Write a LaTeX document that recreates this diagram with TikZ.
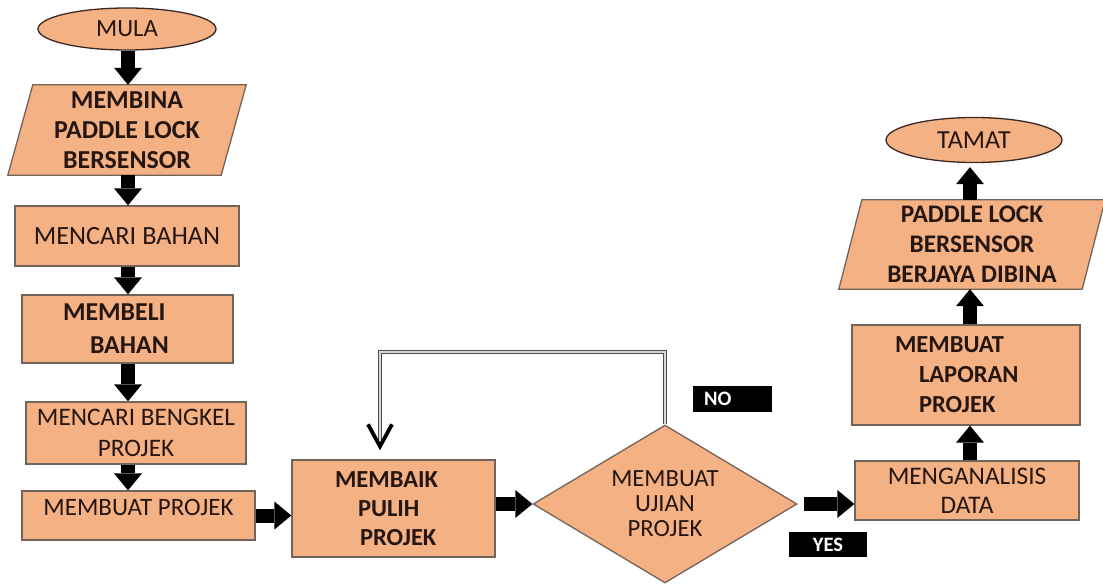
\documentclass[tikz,border=0pt]{standalone}
\usepackage{fontspec}
\setmainfont{Carlito}
\usetikzlibrary{shapes.geometric,arrows.meta,backgrounds,calc}
\definecolor{peach}{RGB}{244,177,131}
\definecolor{edge}{RGB}{115,100,90}
\definecolor{termedge}{RGB}{60,40,35}
\definecolor{ink}{RGB}{38,22,18}
\begin{document}
\begin{tikzpicture}[x=1pt,y=-1pt,
  font=\fontsize{25.5}{29}\selectfont, text=ink,
  box/.style={draw=edge, fill=peach, line width=1.3pt, inner sep=0pt, align=center},
  term/.style={ellipse, draw=termedge, fill=peach, line width=1.3pt, inner sep=0pt},
  paratext/.style={inner sep=0pt, align=center, font=\fontsize{25.5}{30}\selectfont\bfseries},
  para/.style={draw=edge, fill=peach, line width=1.3pt},
  blk/.style={line width=14pt, draw=black, -{Triangle[width=28pt,length=17pt,line width=0pt]}},
  tag/.style={fill=black, text=white, inner sep=0pt, font=\fontsize{20.5}{20.5}\selectfont\bfseries},
  fb/.style={draw=black!70, double=black!15, double distance=2pt, line width=1.4pt},
  vhead/.style={draw=black, line width=3.8pt}
]
\useasboundingbox (0,0) rectangle (1103,586);

% left column
\node[term, minimum width=178pt, minimum height=42pt, font=\fontsize{24.7}{29}\selectfont] (mula) at (127,29) {MULA};
\node[paratext, minimum width=213pt, minimum height=90pt, font=\fontsize{25.9}{30}\selectfont\bfseries] (membina) at (127,130) {MEMBINA\\PADDLE LOCK\\BERSENSOR};
\node[box, minimum width=224pt, minimum height=60pt, font=\fontsize{26.3}{29}\selectfont] (mencari) at (127,236) {MENCARI BAHAN};
\node[box, minimum width=211pt, minimum height=68pt, inner xsep=41pt, text width=129pt, align=left,
      font=\fontsize{25.8}{33}\selectfont\bfseries] (membeli) at (127.5,329) {MEMBELI\\\hspace*{27pt}BAHAN};
\node[box, minimum width=220pt, minimum height=62pt, font=\fontsize{25.2}{31}\selectfont] (bengkel) at (136,433) {MENCARI BENGKEL\\PROJEK};
\node[box, minimum width=233pt, minimum height=49pt, font=\fontsize{25}{29}\selectfont] (membuat) at (138.5,515.5) {\raisebox{8pt}[\height][\depth]{MEMBUAT PROJEK}};

% middle
\node[box, minimum width=203pt, minimum height=97pt, inner xsep=43pt, text width=117pt, align=left,
      font=\fontsize{24.5}{29}\selectfont\bfseries] (membaik) at (393.5,508.5) {MEMBAIK\\\hspace*{23pt}PULIH\\\hspace*{25pt}PROJEK};
\node[diamond, draw=edge, fill=peach, line width=1.3pt, inner sep=0pt, aspect=1.67,
      minimum width=264pt, minimum height=158pt, align=center,
      font=\fontsize{24.7}{25}\selectfont] (dia) at (665,504) {MEMBUAT\\UJIAN\\PROJEK};
\node[tag, minimum width=79pt, minimum height=26pt, text width=57pt, inner xsep=11pt, align=left] (no) at (732.5,399) {NO};
\node[tag, minimum width=78pt, minimum height=25pt] (yes) at (828,544.5) {YES};

% right column
\node[box, minimum width=224pt, minimum height=59pt, font=\fontsize{25.3}{29}\selectfont] (ana) at (967,490.5) {MENGANALISIS\\DATA};
\node[box, minimum width=228pt, minimum height=100pt, inner xsep=43pt, text width=142pt, align=left,
      font=\fontsize{24.5}{30}\selectfont\bfseries] (lap) at (966,375) {MEMBUAT\\\hspace*{24pt}LAPORAN\\\hspace*{24pt}PROJEK};
\node[paratext, minimum width=243pt, minimum height=89pt, font=\fontsize{25.3}{30}\selectfont\bfseries] (pad) at (972,244.5) {PADDLE LOCK\\BERSENSOR\\BERJAYA DIBINA};
\node[term, minimum width=176pt, minimum height=45pt, font=\fontsize{26}{29}\selectfont] (tamat) at (974,140) {TAMAT};

% parallelograms behind their texts
\begin{scope}[on background layer]
\path[para] ($(membina.north west)+(12.5,0)$) -- ($(membina.north east)+(12.5,0)$)
  -- ($(membina.south east)+(-12.5,0)$) -- ($(membina.south west)+(-12.5,0)$) -- cycle;
\path[para] ($(pad.north west)+(11.5,0)$) -- ($(pad.north east)+(11.5,0)$)
  -- ($(pad.south east)+(-11.5,0)$) -- ($(pad.south west)+(-11.5,0)$) -- cycle;
\end{scope}

% block arrows
\coordinate (lx) at (128,0);
\coordinate (rx) at (970,0);
\draw[blk] (mula.south -| lx) -- (membina.north -| lx);
\draw[blk] (membina.south -| lx) -- (mencari.north -| lx);
\draw[blk] (mencari.south -| lx) -- (membeli.north -| lx);
\draw[blk] (membeli.south -| lx) -- (bengkel.north -| lx);
\draw[blk] (bengkel.south -| lx) -- (membuat.north -| lx);
\draw[blk] (membuat.east) -- (membuat.east -| membaik.west);
\draw[blk] (membaik.east |- dia.west) -- (dia.west);
\draw[blk, shorten <=6pt] (dia.east) -- (dia.east -| ana.west);
\draw[blk] (ana.north -| rx) -- (lap.south -| rx);
\draw[blk] (lap.north -| rx) -- (pad.south -| rx);
\draw[blk, shorten >=4pt] (pad.north -| rx) -- (tamat.south -| rx);

% feedback loop (NO)
\coordinate (fbc) at (380,352);
\coordinate (tip) at ($(membaik.north -| fbc)+(0,-13)$);
\draw[fb] (dia.north) |- (fbc) -- (tip);
\draw[vhead] ($(tip)+(-12,-22)$) -- (tip) -- ($(tip)+(12,-22)$);
\end{tikzpicture}
\end{document}
